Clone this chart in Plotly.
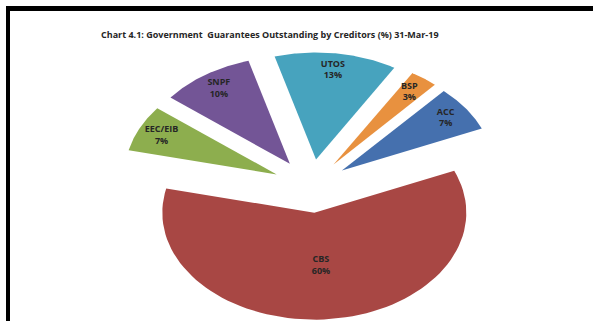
import numpy as np
import plotly.graph_objects as go

# Creditor shares (%), listed clockwise starting from the first slice angle
creditors = ["BSP", "ACC", "CBS", "EEC/EIB", "SNPF", "UTOS"]
shares = [3, 7, 60, 7, 10, 13]
colors = ["#E8913F", "#4570AE", "#A84744", "#8DAE4E", "#735596", "#47A3BE"]

title = "Chart 4.1: Government\u00a0 Guarantees Outstanding by Creditors (%) 31-Mar-19"

W, H = 593, 321
# Tilted (elliptical) exploded pie, drawn on pixel-scaled axes
cx, cy = 311, 186
rx, ry = 152, 107
explode = 38
first_angle = 31.0  # degrees clockwise from 12 o'clock

fig = go.Figure()

total = float(sum(shares))
start = first_angle
lab_x, lab_y, lab_t = [], [], []
for name, val, col in zip(creditors, shares, colors):
    sweep = 360.0 * val / total
    end = start + sweep
    mid = np.radians((start + end) / 2)
    # offset of the wedge's apex along its mid direction
    ox = cx + explode * np.sin(mid)
    oy = cy - explode * (ry / rx) * np.cos(mid)
    th = np.radians(np.linspace(start, end, 80))
    xs = np.concatenate([[ox], ox + rx * np.sin(th), [ox]])
    ys = np.concatenate([[oy], oy - ry * np.cos(th), [oy]])
    fig.add_trace(go.Scatter(
        x=xs, y=ys, mode="lines", fill="toself", fillcolor=col,
        line=dict(width=0, color=col), hoverinfo="text",
        text=f"{name}: {val}%", showlegend=False,
    ))
    frac = 0.5 if val > 25 else 0.84
    lab_x.append(ox + frac * rx * np.sin(mid))
    lab_y.append(oy - frac * ry * np.cos(mid))
    lab_t.append(f"<b>{name}</b><br><b>{val}%</b>")
    start = end

fig.add_trace(go.Scatter(
    x=lab_x, y=lab_y, mode="text", text=lab_t,
    textfont=dict(family="Open Sans", size=9, color="#262626"),
    hoverinfo="skip", showlegend=False,
))

fig.add_annotation(
    x=270, y=34, xref="x", yref="y", text=f"<b>{title}</b>", showarrow=False,
    font=dict(family="Open Sans", size=9, color="#262626"),
)

# frame lines along the top and left edges
fig.add_shape(type="rect", xref="x", yref="y", x0=6, x1=W, y0=6, y1=11,
              fillcolor="black", line=dict(width=0))
fig.add_shape(type="rect", xref="x", yref="y", x0=6, x1=10, y0=6, y1=H,
              fillcolor="black", line=dict(width=0))

fig.update_layout(
    width=W, height=H,
    margin=dict(l=0, r=0, t=0, b=0),
    paper_bgcolor="white", plot_bgcolor="white",
    xaxis=dict(range=[0, W], visible=False, fixedrange=True),
    yaxis=dict(range=[H, 0], visible=False, fixedrange=True),
)

fig.write_html("out.html")
